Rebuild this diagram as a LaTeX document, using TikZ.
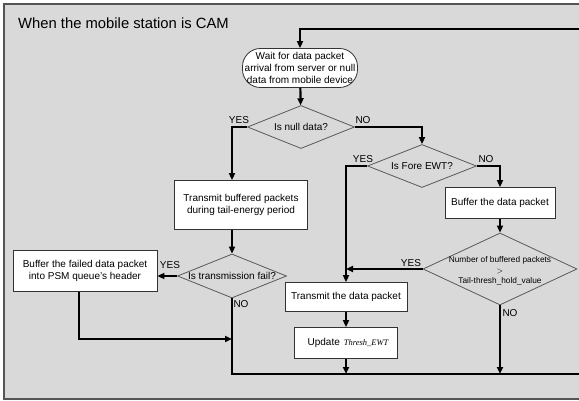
\documentclass[tikz,border=0pt]{standalone}
\usepackage{fontspec}
\setmainfont{Liberation Sans}
\newfontfamily\serifit{Liberation Serif}
\usetikzlibrary{shapes.geometric,arrows.meta}
\definecolor{panelgray}{HTML}{D9D9D9}
\definecolor{framegray}{HTML}{555555}
\tikzset{
  box/.style={draw=black!80, fill=white, line width=0.8pt, inner sep=0pt,
    align=center, font=\fontsize{10}{12}\selectfont},
  startbox/.style={box, rounded corners=18pt},
  test/.style={diamond, draw=black!65, line width=0.8pt, inner sep=0pt},
  testtext/.style={inner sep=0pt, align=center, font=\fontsize{10}{12}\selectfont},
  tag/.style={inner sep=0pt, font=\fontsize{10}{12}\selectfont},
  flow/.style={line width=2.2pt, -{Triangle[length=7pt,width=6pt]}},
}
\begin{document}
\begin{tikzpicture}[x=1pt,y=-1pt]
      \useasboundingbox (0,0) rectangle (579,401);
      \clip (0,0) rectangle (579,401);
      \draw[fill=panelgray, draw=framegray, line width=1.5pt] (4,4) rectangle (660,399);
      \node[anchor=base west, inner sep=0pt, font=\fontsize{14.8}{16}\selectfont]
        (title) at (18,29) {When the mobile station is CAM};
      % boxes
      \node[startbox, minimum width=115pt, minimum height=39pt] (wait) at (300,68)
        {Wait for data packet\\arrival from server or null\\data from mobile device};
      \node[box, minimum width=133pt, minimum height=49pt] (tbuf) at (241,205)
        {Transmit buffered packets\\during tail-energy period};
      \node[box, minimum width=144pt, minimum height=41pt] (fbuf) at (85,271)
        {Buffer the failed data packet\\into PSM queue's header};
      \node[box, minimum width=110pt, minimum height=31pt] (bdata) at (500,203)
        {Buffer the data packet};
      \node[box, minimum width=122pt, minimum height=29pt] (tdata) at (346,297)
        {Transmit the data packet};
      \node[box, minimum width=103pt, minimum height=31pt] (upd) at (346,343)
        {\hspace*{4pt}Update\hspace{4pt}{\serifit\itshape\fontsize{8.5}{10}\selectfont Thresh\_EWT}};
      % decisions
      \node[test, minimum width=107pt, minimum height=43pt] (null) at (301,127) {};
      \node[testtext] (nullq) at (null) {Is null data?};
      \node[test, minimum width=109pt, minimum height=43pt] (fore) at (422,166) {};
      \node[testtext] (foreq) at (fore) {Is Fore EWT?};
      \node[test, minimum width=109pt, minimum height=44pt] (fail) at (232,276) {};
      \node[testtext] (failq) at (fail) {Is transmission fail?};
      \node[test, minimum width=154pt, minimum height=72pt] (thr) at (500,269) {};
      \node[testtext, font=\fontsize{8.3}{10.5}\selectfont] (thrq) at (500,271)
        {Number of buffered packets\\$>$\\Tail-thresh\_hold\_value};
      % answers
      \node[tag] (nullyes) at (239,120) {YES};
      \node[tag] (nullno) at (363,120) {NO};
      \node[tag] (foreyes) at (363,159) {YES};
      \node[tag] (foreno) at (486,159) {NO};
      \node[tag] (failyes) at (170,265) {YES};
      \node[tag] (failno) at (241,304) {NO};
      \node[tag] (thryes) at (411,263) {YES};
      \node[tag] (thrno) at (510,313) {NO};
      % loop points
      \coordinate (botR) at (660,374);
      \coordinate (topR) at (660,29);
      \coordinate (merge) at (fail.south |- 0,339);
      \begin{scope}[flow]
        \draw (wait) to (null);
        \draw (null.west) -| ([xshift=-9pt]tbuf.north);
        \draw ([xshift=-9pt]tbuf.south) to (fail.north);
        \draw (fail.west) to (fail.west -| fbuf.east);
        \draw ([xshift=-6pt]fbuf.south) |- (merge);
        \draw (fail.south) |- (botR) -- (topR) -| (wait.north);
        \draw (null.east) -| (fore.north);
        \draw (fore.west) -| (tdata.north);
        \draw (fore.east) -| (bdata.north);
        \draw (bdata) to (thr);
        \draw (thr.west) to (thr.west -| tdata.north);
        \draw (thr.south) to (thr.south |- botR);
        \draw (tdata) to (upd);
        \draw (upd.south) to (upd.south |- botR);
      \end{scope}
    \end{tikzpicture}
\end{document}
